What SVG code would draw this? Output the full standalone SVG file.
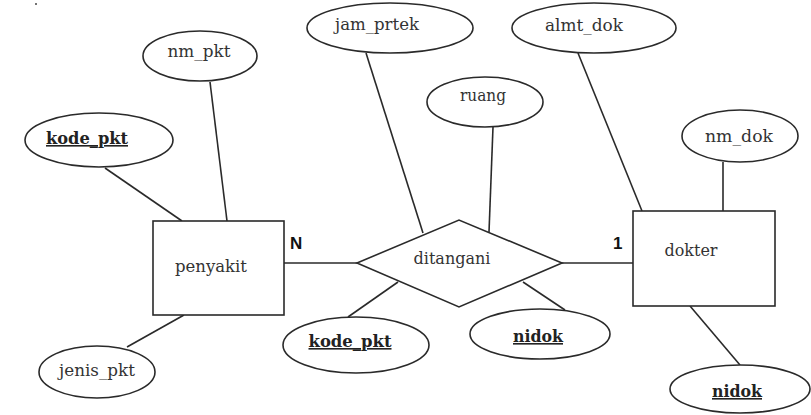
<svg xmlns="http://www.w3.org/2000/svg" width="811" height="415" viewBox="0 0 811 415">
<style>
.s{fill:#fff;stroke:#2a2a2a;stroke-width:1.6}
.c line{stroke:#2a2a2a;stroke-width:1.6}
.t{font-family:"DejaVu Serif",serif;font-size:16px;fill:#333;text-anchor:middle}
.k{font-family:"DejaVu Serif",serif;font-size:16px;font-weight:bold;fill:#222;text-anchor:middle;text-decoration:underline}
.n{font-family:"Liberation Sans",Arial,sans-serif;font-size:17px;font-weight:bold;fill:#111}
</style>
<rect width="811" height="415" fill="#fff"/>
<circle cx="36" cy="4" r="1" fill="#444"/>
<g class="c" id="connectors">
<line x1="105" y1="168" x2="182" y2="221"/>
<line x1="210" y1="82" x2="227" y2="221"/>
<line x1="127" y1="347" x2="184" y2="315"/>
<line x1="284" y1="263" x2="357" y2="263"/>
<line x1="562" y1="263" x2="633" y2="263"/>
<line x1="366" y1="53" x2="423" y2="233"/>
<line x1="493" y1="127" x2="489" y2="232"/>
<line x1="348" y1="317" x2="398" y2="282"/>
<line x1="523" y1="282" x2="565" y2="310"/>
<line x1="578" y1="53" x2="642" y2="211"/>
<line x1="723" y1="162" x2="723" y2="211"/>
<line x1="690" y1="306" x2="740" y2="365"/>
</g>
<g id="penyakit">
<rect class="s" x="153" y="221" width="131" height="94"/>
<text class="t" x="211" y="272" textLength="72" lengthAdjust="spacingAndGlyphs">penyakit</text>
</g>
<g id="dokter">
<rect class="s" x="633" y="211" width="142" height="95"/>
<text class="t" x="691" y="256" textLength="53" lengthAdjust="spacingAndGlyphs">dokter</text>
</g>
<g id="ditangani">
<polygon class="s" points="357,263 459,220 562,263 459,307"/>
<text class="t" x="452" y="264" textLength="77" lengthAdjust="spacingAndGlyphs">ditangani</text>
</g>
<g id="nm_pkt">
<ellipse class="s" cx="200" cy="56" rx="57" ry="25"/>
<text class="t" x="199" y="57" textLength="63" lengthAdjust="spacingAndGlyphs">nm_pkt</text>
</g>
<g id="kode_pkt_1">
<ellipse class="s" cx="99" cy="140" rx="74" ry="27"/>
<text class="k" x="87" y="144" textLength="82" lengthAdjust="spacingAndGlyphs">kode_pkt</text>
</g>
<g id="jenis_pkt">
<ellipse class="s" cx="97" cy="372" rx="58" ry="26"/>
<text class="t" x="97" y="376" textLength="76" lengthAdjust="spacingAndGlyphs">jenis_pkt</text>
</g>
<g id="jam_prtek">
<ellipse class="s" cx="390" cy="28" rx="83" ry="25"/>
<text class="t" x="377" y="30" textLength="84" lengthAdjust="spacingAndGlyphs">jam_prtek</text>
</g>
<g id="ruang">
<ellipse class="s" cx="485" cy="102" rx="58" ry="25"/>
<text class="t" x="483" y="101" textLength="46" lengthAdjust="spacingAndGlyphs">ruang</text>
</g>
<g id="kode_pkt_2">
<ellipse class="s" cx="356" cy="345" rx="73" ry="28"/>
<text class="k" x="350" y="347" textLength="83" lengthAdjust="spacingAndGlyphs">kode_pkt</text>
</g>
<g id="nidok_1">
<ellipse class="s" cx="540" cy="334" rx="70" ry="25"/>
<text class="k" x="538" y="342" textLength="50" lengthAdjust="spacingAndGlyphs">nidok</text>
</g>
<g id="almt_dok">
<ellipse class="s" cx="594" cy="28" rx="82" ry="25"/>
<text class="t" x="584" y="31" textLength="78" lengthAdjust="spacingAndGlyphs">almt_dok</text>
</g>
<g id="nm_dok">
<ellipse class="s" cx="740" cy="136" rx="58" ry="26"/>
<text class="t" x="739" y="142" textLength="68" lengthAdjust="spacingAndGlyphs">nm_dok</text>
</g>
<g id="nidok_2">
<ellipse class="s" cx="740" cy="389" rx="70" ry="24"/>
<text class="k" x="737" y="397" textLength="50" lengthAdjust="spacingAndGlyphs">nidok</text>
</g>
<g id="labels">
<text class="n" x="290" y="249">N</text>
<text class="n" x="613" y="249">1</text>
</g>
</svg>
